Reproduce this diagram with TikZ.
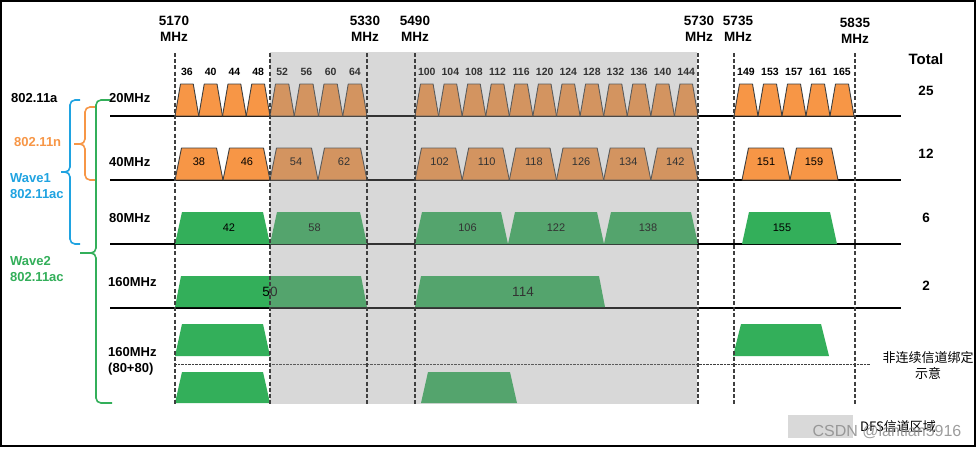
\documentclass[tikz,border=0pt]{standalone}
\usepackage{fontspec}
\setmainfont{Liberation Sans}
\newfontfamily\cjk{Noto Sans CJK SC}
\definecolor{orng}{HTML}{F79646}
\definecolor{grn}{HTML}{33AF5A}
\definecolor{blu}{HTML}{1FA3E1}
\definecolor{dfsgray}{HTML}{929292}
\definecolor{legendgray}{HTML}{D9D9D9}
\definecolor{edge}{HTML}{3F3F3F}
\newcommand\tz[6]{\path[#6] (#1,#4) -- (#1+#5,#3) -- (#2-#5,#3) -- (#2,#4) -- cycle;}
\newcommand\twenty[3]{%
  \foreach \n [count=\i from 0] in {#3} {
    \pgfmathsetmacro\xa{#1+#2*\i}
    \pgfmathsetmacro\xb{\xa+#2}
    \tz{\xa}{\xb}{84}{116}{5.5}{ofill}
    \node[chnum] (c\n) at ({(\xa+\xb)/2},72) {\n};
  }}
\begin{document}
\begin{tikzpicture}[x=1pt,y=-1pt,
  ofill/.style={fill=orng, draw=edge, line width=0.9pt, line join=round},
  gfill/.style={fill=grn},
  base/.style={line width=1.3pt, black},
  dsh/.style={draw=edge, line width=1.2pt, dash pattern=on 4pt off 2.2pt},
  dotl/.style={draw=edge, line width=0.9pt, dash pattern=on 0.8pt off 0.6pt},
  brace/.style={line width=1.6pt, rounded corners=5pt},
  hdr/.style={font=\bfseries\fontsize{13.5}{16}\selectfont, align=center, inner sep=0pt},
  rowl/.style={font=\bfseries\fontsize{13}{16}\selectfont, align=left, inner sep=0pt, anchor=west},
  chnum/.style={font=\bfseries\fontsize{10.5}{12}\selectfont, inner sep=0pt},
  tl/.style={font=\fontsize{11}{13}\selectfont, inner sep=0pt},
  bigl/.style={font=\fontsize{13.5}{15}\selectfont, inner sep=0pt},
  tot/.style={font=\bfseries\fontsize{13.5}{15}\selectfont, inner sep=0pt},
  cjkl/.style={font=\cjk\fontsize{13}{16}\selectfont, align=center, inner sep=0pt}]
\useasboundingbox (0,0) rectangle (978,448);
\fill[white] (0,0) rectangle (978,448);

% baselines
\draw[base] (110,116) -- (901,116);
\draw[base] (110,180) -- (901,180);
\draw[base] (110,244) -- (901,244);
\draw[base] (110,308) -- (901,308);
\draw[dotl] (175,364) -- (870,364);

% 20 MHz channels
\twenty{175}{23.75}{36,40,44,48}
\twenty{270}{24.25}{52,56,60,64}
\twenty{415}{23.5833}{100,104,108,112,116,120,124,128,132,136,140,144}
\twenty{734}{24}{149,153,157,161,165}

% 40 MHz channels
\tz{175}{223}{148}{180}{6.5}{ofill} \node[tl] (f38) at (199,162) {38};
\tz{223}{270}{148}{180}{6.5}{ofill} \node[tl] (f46) at (247,162) {46};
\tz{270}{318}{148}{180}{6.5}{ofill} \node[tl] (f54) at (296,162) {54};
\tz{318}{367}{148}{180}{6.5}{ofill} \node[tl] (f62) at (344,162) {62};
\foreach \n [count=\i from 0] in {102,110,118,126,134,142} {
  \pgfmathsetmacro\xa{415+47.1667*\i}
  \pgfmathsetmacro\xb{\xa+47.1667}
  \tz{\xa}{\xb}{148}{180}{6.5}{ofill}
  \node[tl] (f\n) at ({(\xa+\xb)/2+1},162) {\n};
}
\tz{742}{790}{148}{180}{6.5}{ofill} \node[tl] (f151) at (766,162) {151};
\tz{790}{838}{148}{180}{6.5}{ofill} \node[tl] (f159) at (814,162) {159};

% 80 MHz channels
\tz{175}{270}{212}{244}{7}{gfill} \node[tl] (e42) at (229,228) {42};
\tz{270}{367}{212}{244}{7}{gfill} \node[tl] (e58) at (314.5,228) {58};
\tz{415}{508}{212}{244}{7}{gfill} \node[tl] (e106) at (467.5,228) {106};
\tz{508}{604}{212}{244}{7}{gfill} \node[tl] (e122) at (556,228) {122};
\tz{604}{698}{212}{244}{7}{gfill} \node[tl] (e138) at (648,228) {138};
\tz{742}{837}{212}{244}{7}{gfill} \node[tl] (e155) at (782,228) {155};

% 160 MHz channels
\tz{175}{367}{276}{307}{6}{gfill} \node[bigl] (s50) at (270,292) {50};
\tz{415}{605}{276}{307}{6}{gfill} \node[bigl] (s114) at (523,292) {114};

% 80+80
\tz{175}{270}{324}{356}{7}{gfill}
\tz{733}{829}{324}{356}{8}{gfill}
\tz{175}{270}{372}{403}{7}{gfill}
\tz{421}{517}{372}{403}{7}{gfill}

% DFS overlay
\fill[dfsgray, opacity=0.35] (270,52) rectangle (697,404);

% dashed frequency markers
\foreach \x in {175,270,367,415,698,734,855} {
  \draw[dsh] (\x,53) -- (\x,405);
}

% frequency labels
\node[hdr] (h5170) at (174,29) {5170\\MHz};
\node[hdr] (h5330) at (365,29) {5330\\MHz};
\node[hdr] (h5490) at (415,29) {5490\\MHz};
\node[hdr] (h5730) at (699,29) {5730\\MHz};
\node[hdr] (h5735) at (738,29) {5735\\MHz};
\node[hdr] (h5835) at (855,31) {5835\\MHz};

% row labels
\node[rowl] (r20) at (109,98) {20MHz};
\node[rowl] (r40) at (109,162) {40MHz};
\node[rowl] (r80) at (109,218) {80MHz};
\node[rowl] (r160) at (108,282) {160MHz};
\node[rowl] (r8080) at (108,361) {160MHz\\(80+80)};

% standard labels
\node[rowl] (sa) at (11,98) {802.11a};
\node[rowl, text=orng] (sn) at (14,142) {802.11n};
\node[rowl, text=blu] (sw1) at (10,186) {Wave1\\802.11ac};
\node[rowl, text=grn] (sw2) at (10,269) {Wave2\\802.11ac};

% braces
\draw[brace, blu] (80,100) -- (70,100) -- (70,172) -- (61,172);
\draw[brace, blu] (61,172) -- (70,172) -- (70,244) -- (80,244);
\draw[brace, orng] (95,107) -- (85,107) -- (85,144) -- (74,144);
\draw[brace, orng] (74,144) -- (85,144) -- (85,180) -- (95,180);
\draw[brace, grn] (110,100) -- (96,100) -- (96,253) -- (80,253);
\draw[brace, grn] (80,253) -- (96,253) -- (96,403) -- (112,403);

% totals
\node[tot, font=\bfseries\fontsize{15}{17}\selectfont] (ttl) at (926,59) {Total};
\node[tot] (t25) at (926,91) {25};
\node[tot] (t12) at (926,154) {12};
\node[tot] (t6) at (926,218) {6};
\node[tot] (t2) at (926,286) {2};

% note
\node[cjkl] (note) at (928,366) {非连续信道绑定\\示意};

% legend
\fill[legendgray] (788,415) rectangle (853,438);
\node[cjkl, anchor=west] (leg) at (860,427) {DFS信道区域};

% watermark
\node[font=\fontsize{16}{18}\selectfont, text=black!45, opacity=0.85, inner sep=0pt] (wm) at (887,432) {CSDN @lantian5916};

% frame
\draw[line width=1.6pt] (0.8,0.8) rectangle (975.2,446);
\end{tikzpicture}
\end{document}
